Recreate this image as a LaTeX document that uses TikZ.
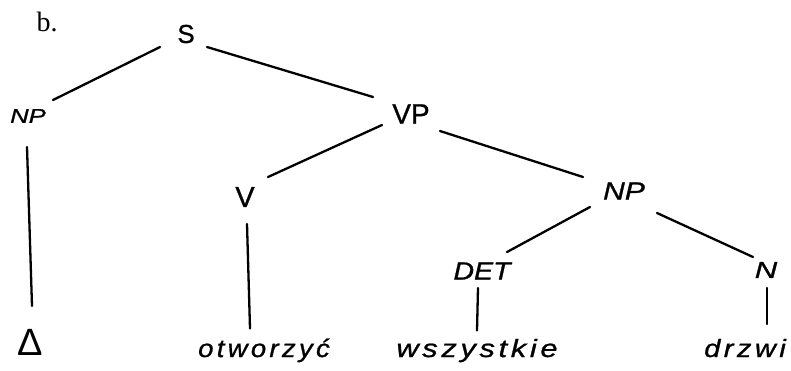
\documentclass[tikz,border=0pt]{standalone}
\usepackage{fontspec}
\setmainfont{Liberation Sans}
\newfontfamily\hand{Liberation Sans}[FakeBold=0.9]
\newfontfamily\serifletter{Liberation Serif}
\usetikzlibrary{calc}
\newcommand{\sz}[1]{\fontsize{#1}{#1}\selectfont}
\tikzset{
  branch/.style={line width=2.3pt, line cap=round, draw=black},
  cat/.style={inner sep=0pt, text=black},
  word/.style={inner sep=0pt, anchor=base, text=black,
    font=\hand\sz{25}\itshape\addfontfeature{LetterSpace=12}},
}
\begin{document}
\begin{tikzpicture}[x=1pt,y=-1pt]
\useasboundingbox[fill=white] (0,0) rectangle (791,370);

% example label
\node[cat, font=\sz{28}\serifletter] (lab) at (47,22) {b.};

% category labels
\node[cat, font=\hand\sz{26}] (S) at (186,34) {S};
\node[cat, font=\hand\sz{20}\itshape] (NPa) at (28,116) {\scalebox{1.28}[1]{NP}};
\node[cat, font=\hand\sz{28}] (VP) at (411,114) {VP};
\node[cat, font=\hand\sz{29}] (V) at (245,197) {V};
\node[cat, font=\hand\sz{25}\itshape] (NPb) at (624,191) {\scalebox{1.2}[1]{NP}};
\node[cat, font=\hand\sz{25}\itshape] (DET) at (482,271) {\scalebox{1.14}[1]{DET}};
\node[cat, font=\hand\sz{23}\itshape] (N) at (766,270) {\scalebox{1.35}[1]{N}};

% terminals
\node[cat, font=\sz{38}] (empty) at (30,342) {Δ};
\node[word] (otw) at (264,357) {\scalebox{1.1}[1]{otworzyć}};
\node[word] (wsz) at (477,357) {\scalebox{1.23}[1]{wszystkie}};
\node[word] (drz) at (745,357) {\scalebox{1.16}[1]{drzwi}};

% branches
\draw[branch] ($(S)+(-26,13)$) -- ($(NPa)+(25,-16)$);
\draw[branch] ($(S)+(21,13)$) -- ($(VP)+(-38,-17)$);
\draw[branch] ($(NPa)+(-1,31)$) -- ($(empty)+(2,-36)$);
\draw[branch] ($(VP)+(-29,11)$) -- ($(V)+(23,-20)$);
\draw[branch] ($(VP)+(29,17)$) -- ($(NPb)+(-41,-14)$);
\draw[branch] ($(V)+(2,27)$) -- ($(otw)+(-14,-22)$);
\draw[branch] ($(NPb)+(-34,16)$) -- ($(DET)+(25,-19)$);
\draw[branch] ($(NPb)+(33,22)$) -- ($(N)+(-13,-13)$);
\draw[branch] ($(DET)+(-4,17)$) -- ($(wsz)+(0,-20)$);
\draw[branch] ($(N)+(1,18)$) -- ($(drz)+(22,-24)$);
\end{tikzpicture}
\end{document}
